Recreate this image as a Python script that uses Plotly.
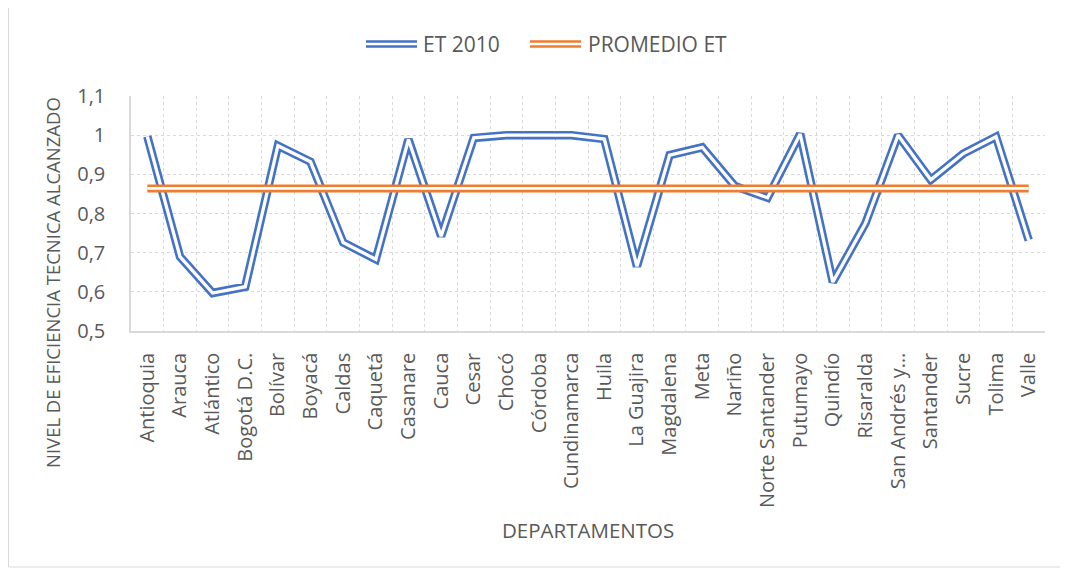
import plotly.graph_objects as go

departamentos = ["Antioquia", "Arauca", "Atlántico", "Bogotá D.C.", "Bolívar", "Boyacá",
                 "Caldas", "Caquetá", "Casanare", "Cauca", "Cesar", "Chocó", "Córdoba",
                 "Cundinamarca", "Huila", "La Guajira", "Magdalena", "Meta", "Nariño",
                 "Norte Santander", "Putumayo", "Quindío", "Risaralda", "San Andrés y…",
                 "Santander", "Sucre", "Tolima", "Valle"]
et_2010 = [0.997, 0.690, 0.597, 0.613, 0.973, 0.932, 0.726, 0.683, 0.989, 0.742,
           0.993, 1.000, 1.000, 1.000, 0.990, 0.665, 0.949, 0.969, 0.870, 0.840,
           1.003, 0.625, 0.775, 1.000, 0.886, 0.953, 0.996, 0.732]
promedio_value = 0.864
promedio_et = [promedio_value] * len(departamentos)

BLUE = "#4472C4"
ORANGE = "#ED7D31"
GRAY = "#595959"
GRID = "#d9d9d9"
FONT = "Open Sans"

# page has an 8px body margin: work in reference pixel coords and shift by OFF
OFF = 8
W, H = 1068 - OFF, 573 - OFF
PL, PR, PT, PB = 131, 1045, 96, 331   # plot area in reference coords
L, T = PL - OFF, PT - OFF
R, B = W - (PR - OFF), H - (PB - OFF)
pw, ph = W - L - R, H - T - B

def px(xp):
    return (xp - OFF - L) / pw

def py(yp):
    return (H - B - (yp - OFF)) / ph

fig = go.Figure()
fig.add_trace(go.Scatter(x=departamentos, y=et_2010, mode="lines",
                         line=dict(color=BLUE, width=8.5), showlegend=False))
fig.add_trace(go.Scatter(x=departamentos, y=et_2010, mode="lines",
                         line=dict(color="white", width=3.3), showlegend=False))
fig.add_trace(go.Scatter(x=departamentos, y=promedio_et, mode="lines",
                         line=dict(color=ORANGE, width=8), showlegend=False))
fig.add_trace(go.Scatter(x=departamentos, y=promedio_et, mode="lines",
                         line=dict(color="white", width=2.7), showlegend=False))

shapes = []
shapes.append(dict(type="rect", xref="paper", yref="paper",
                   x0=px(OFF + 0.5), x1=px(1061), y0=py(567), y1=py(5 + 1),
                   line=dict(color=GRID, width=1), layer="below"))
for (x0, x1, col) in [(366, 417, BLUE), (530, 581, ORANGE)]:
    for yy in (41.5, 46.5):
        shapes.append(dict(type="line", xref="paper", yref="paper",
                           x0=px(x0), x1=px(x1), y0=py(yy), y1=py(yy),
                           line=dict(color=col, width=2.5)))

annotations = [
    dict(text="ET 2010", xref="paper", yref="paper", x=px(421), y=py(44),
         xanchor="left", yanchor="middle", showarrow=False,
         font=dict(family=FONT, size=21, color=GRAY)),
    dict(text="PROMEDIO ET", xref="paper", yref="paper", x=px(586), y=py(44),
         xanchor="left", yanchor="middle", showarrow=False,
         font=dict(family=FONT, size=21, color=GRAY)),
    dict(text="NIVEL DE EFICIENCIA TECNICA ALCANZADO", xref="paper", yref="paper",
         x=px(52), y=py(283), textangle=-90, xanchor="center", yanchor="middle",
         showarrow=False, font=dict(family=FONT, size=18.5, color=GRAY)),
    dict(text="DEPARTAMENTOS", xref="paper", yref="paper", x=px(588), y=py(530),
         xanchor="center", yanchor="middle", showarrow=False,
         font=dict(family=FONT, size=20.5, color=GRAY)),
]

fig.update_layout(
    width=W, height=H,
    margin=dict(l=L, r=R, t=T, b=B),
    paper_bgcolor="white", plot_bgcolor="white",
    separators=", ",
    showlegend=False,
    shapes=shapes,
    annotations=annotations,
    xaxis=dict(type="category", categoryorder="array", categoryarray=departamentos,
               tickson="boundaries", showgrid=True, gridcolor=GRID, griddash="dot",
               gridwidth=1, showline=True, linecolor=GRID, linewidth=1.5,
               ticks="", tickangle=-90, ticklabelstandoff=12,
               tickfont=dict(family=FONT, size=20, color=GRAY),
               range=[-0.5, len(departamentos) - 0.5]),
    yaxis=dict(range=[0.5, 1.1], dtick=0.1, tick0=0.5, showgrid=True, gridcolor=GRID,
               griddash="dot", gridwidth=1, showline=True, linecolor=GRID, linewidth=1.5,
               ticks="", ticklabelstandoff=20, zeroline=False,
               tickfont=dict(family=FONT, size=20, color=GRAY)),
    font=dict(family=FONT, color=GRAY),
)

fig.write_html("out.html")
